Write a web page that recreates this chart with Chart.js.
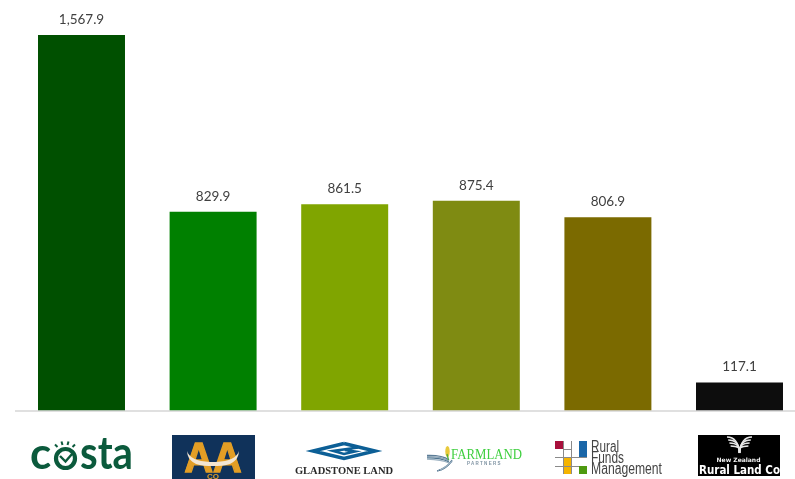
<!DOCTYPE html>
<html>
<head>
<meta charset="utf-8">
<script src="https://cdn.jsdelivr.net/npm/chart.js@4/dist/chart.umd.min.js"></script>
<style>
  html, body { margin: 0; padding: 0; background: #fff; overflow: hidden; width: 795px; height: 479px; }
  #wrap { width: 795px; height: 479px; overflow: hidden; }
</style>
</head>
<body>
<div id="wrap"><canvas id="chart" width="806" height="479"></canvas></div>
<script>
const companies = ['Costa', 'AACo', 'Gladstone Land', 'Farmland Partners', 'Rural Funds Management', 'New Zealand Rural Land Co'];
const values = [1567.9, 829.9, 861.5, 875.4, 806.9, 117.1];
const barColors = ['#005000', '#008000', '#80A500', '#7F8B12', '#7B6A00', '#0D0D0D'];

function text(ctx, str, x, y, font, color, align = 'left', maxWidth) {
  ctx.font = font;
  ctx.fillStyle = color;
  ctx.textAlign = align;
  ctx.textBaseline = 'alphabetic';
  if (maxWidth) ctx.fillText(str, x, y, maxWidth);
  else ctx.fillText(str, x, y);
}

function rect(ctx, x, y, w, h, color) {
  ctx.fillStyle = color;
  ctx.fillRect(x, y, w, h);
}

function stroke(ctx, color, width, pts) {
  ctx.strokeStyle = color;
  ctx.lineWidth = width;
  ctx.beginPath();
  pts.forEach(([x, y], i) => i ? ctx.lineTo(x, y) : ctx.moveTo(x, y));
  ctx.stroke();
}

// Logos under the axis, one function per company, positioned by hand
function logoCosta(ctx) {
  const c = '#0B5A3C';
  text(ctx, 'c', 30, 469, 'bold 44px Lato', c, 'left', 22);
  ctx.strokeStyle = c;
  ctx.lineWidth = 4.2;
  ctx.beginPath();
  ctx.arc(65.5, 458.5, 9.5, 0, Math.PI * 2);
  ctx.stroke();
  stroke(ctx, c, 2.4, [[60, 456], [65.5, 461.5], [72, 454]]);
  [[55, 444.5, 57.5, 447], [61.5, 441.5, 62.5, 445], [68.5, 441.5, 67.5, 445], [75, 444.5, 72.5, 447]].forEach(r =>
    stroke(ctx, c, 2, [[r[0], r[1]], [r[2], r[3]]]));
  text(ctx, 'sta', 80, 469, 'bold 46px Lato', c, 'left', 53);
}

function logoAACo(ctx) {
  rect(ctx, 172, 435, 83, 44, '#10325A');
  text(ctx, 'AA', 213, 472, 'bold 42px "Liberation Sans"', '#E39E25', 'center', 58);
  ctx.strokeStyle = '#E39E25';
  ctx.lineWidth = 1.5;
  ctx.strokeText('AA', 213, 471.5, 57);
  ctx.fillStyle = '#F3E6D2';
  ctx.beginPath();
  ctx.moveTo(187, 451);
  ctx.quadraticCurveTo(190, 461, 210, 462);
  ctx.lineTo(216, 462);
  ctx.quadraticCurveTo(236, 461, 239, 451);
  ctx.quadraticCurveTo(238, 466, 217, 466);
  ctx.lineTo(209, 466);
  ctx.quadraticCurveTo(188, 466, 187, 451);
  ctx.fill();
  text(ctx, 'CO', 213, 479, 'bold 8px "Liberation Sans"', '#E39E25', 'center');
}

function logoGladstone(ctx) {
  const c = '#0C5F96';
  stroke(ctx, c, 3.5, [[344, 443.5], [375, 451], [344, 458.5], [313, 451], [344, 443.5]]);
  stroke(ctx, c, 2.5, [[358, 447.5], [333, 451], [344, 454], [355, 451.5], [345, 450]]);
  text(ctx, 'GLADSTONE LAND', 344, 474, 'bold 10.5px "Liberation Serif"', '#2A2A2A', 'center', 99);
}

function logoFarmland(ctx) {
  const blues = ['#5C7C96', '#8AA2B5', '#4F7590', '#9DB2C2'];
  blues.forEach((c, i) => {
    ctx.strokeStyle = c;
    ctx.lineWidth = 1.3;
    ctx.beginPath();
    ctx.moveTo(427, 455.5 + i * 1.2);
    ctx.quadraticCurveTo(442, 455 + i * 1.5, 449, 460 + i);
    ctx.stroke();
    ctx.beginPath();
    ctx.moveTo(437 + i, 471 - i * 0.3);
    ctx.quadraticCurveTo(446, 470 - i, 452, 460 + i * 0.5);
    ctx.stroke();
  });
  ctx.fillStyle = '#E8C93A';
  ctx.beginPath();
  ctx.ellipse(447.5, 451.5, 2.2, 5.5, 0, 0, Math.PI * 2);
  ctx.fill();
  stroke(ctx, '#4FAE3A', 1.3, [[447, 454], [448.5, 460]]);
  text(ctx, 'FARMLAND', 451, 459, '15px "Liberation Serif"', '#3FCF3F', 'left', 71);
  ctx.letterSpacing = '1.3px';
  text(ctx, 'PARTNERS', 467, 465, 'bold 4.5px "Liberation Sans"', '#7F93A3');
  ctx.letterSpacing = '0px';
}

function logoRuralFunds(ctx) {
  rect(ctx, 555, 441, 8, 8, '#A8103C');
  rect(ctx, 579, 441, 8, 16, '#1B67A8');
  rect(ctx, 563, 457, 8, 17, '#F5B400');
  rect(ctx, 579, 466, 8, 8, '#4E9A10');
  const g = '#8A8A8A';
  stroke(ctx, g, 1, [[563, 449.5], [571, 449.5]]);
  stroke(ctx, g, 1, [[555, 457.5], [587, 457.5]]);
  stroke(ctx, g, 1, [[555, 466.5], [579, 466.5]]);
  stroke(ctx, g, 1, [[563.5, 441], [563.5, 474]]);
  stroke(ctx, g, 1, [[571.5, 441], [571.5, 474]]);
  const f = '16px "Liberation Sans"';
  text(ctx, 'Rural', 591, 452, f, '#444444', 'left', 28);
  text(ctx, 'Funds', 591, 463, f, '#444444', 'left', 33);
  text(ctx, 'Management', 591, 473.5, f, '#444444', 'left', 71);
}

function logoNewZealand(ctx) {
  rect(ctx, 698, 435, 82, 41, '#000000');
  ctx.strokeStyle = '#E8E8E8';
  ctx.lineWidth = 1.5;
  [0, 3, 6, 9].forEach(d => {
    ctx.beginPath();
    ctx.moveTo(727 + d * 0.4, 437 + d);
    ctx.quadraticCurveTo(738 + d * 0.4, 437 + d, 739.5, 453);
    ctx.stroke();
    ctx.beginPath();
    ctx.moveTo(752 - d * 0.4, 437 + d);
    ctx.quadraticCurveTo(741 - d * 0.4, 437 + d, 739.5, 453);
    ctx.stroke();
  });
  text(ctx, 'New Zealand', 738.5, 462, 'bold 6px "DejaVu Sans"', '#F0F0F0', 'center');
  text(ctx, 'Rural Land Co', 699, 473.5, 'bold 12.5px "DejaVu Sans"', '#FFFFFF', 'left', 81);
}

const logos = [logoCosta, logoAACo, logoGladstone, logoFarmland, logoRuralFunds, logoNewZealand];

const valueLabels = {
  id: 'valueLabels',
  afterDatasetsDraw(chart) {
    const { ctx } = chart;
    chart.getDatasetMeta(0).data.forEach((bar, i) => {
      const label = values[i].toLocaleString('en-US', { minimumFractionDigits: 1, maximumFractionDigits: 1 });
      text(ctx, label, bar.x, bar.y - 11, '13.5px Lato', '#404040', 'center');
    });
  }
};

const logoRow = {
  id: 'logoRow',
  afterDraw(chart) {
    const { ctx } = chart;
    logos.forEach(draw => {
      ctx.save();
      draw(ctx);
      ctx.restore();
    });
  }
};

new Chart(document.getElementById('chart'), {
  type: 'bar',
  data: {
    labels: companies,
    datasets: [{
      data: values,
      backgroundColor: barColors,
      barPercentage: 0.661,
      categoryPercentage: 1
    }]
  },
  options: {
    responsive: false,
    animation: false,
    devicePixelRatio: 1,
    layout: { padding: { left: 15.7, right: 0.7, top: 0, bottom: 60.5 } },
    plugins: { legend: { display: false }, tooltip: { enabled: false } },
    scales: {
      x: {
        grid: { display: false },
        border: { color: '#E0E0E0', width: 2 },
        ticks: { display: false }
      },
      y: {
        display: false,
        min: 0,
        max: 1714
      }
    }
  },
  plugins: [valueLabels, logoRow]
});
</script>
</body>
</html>
